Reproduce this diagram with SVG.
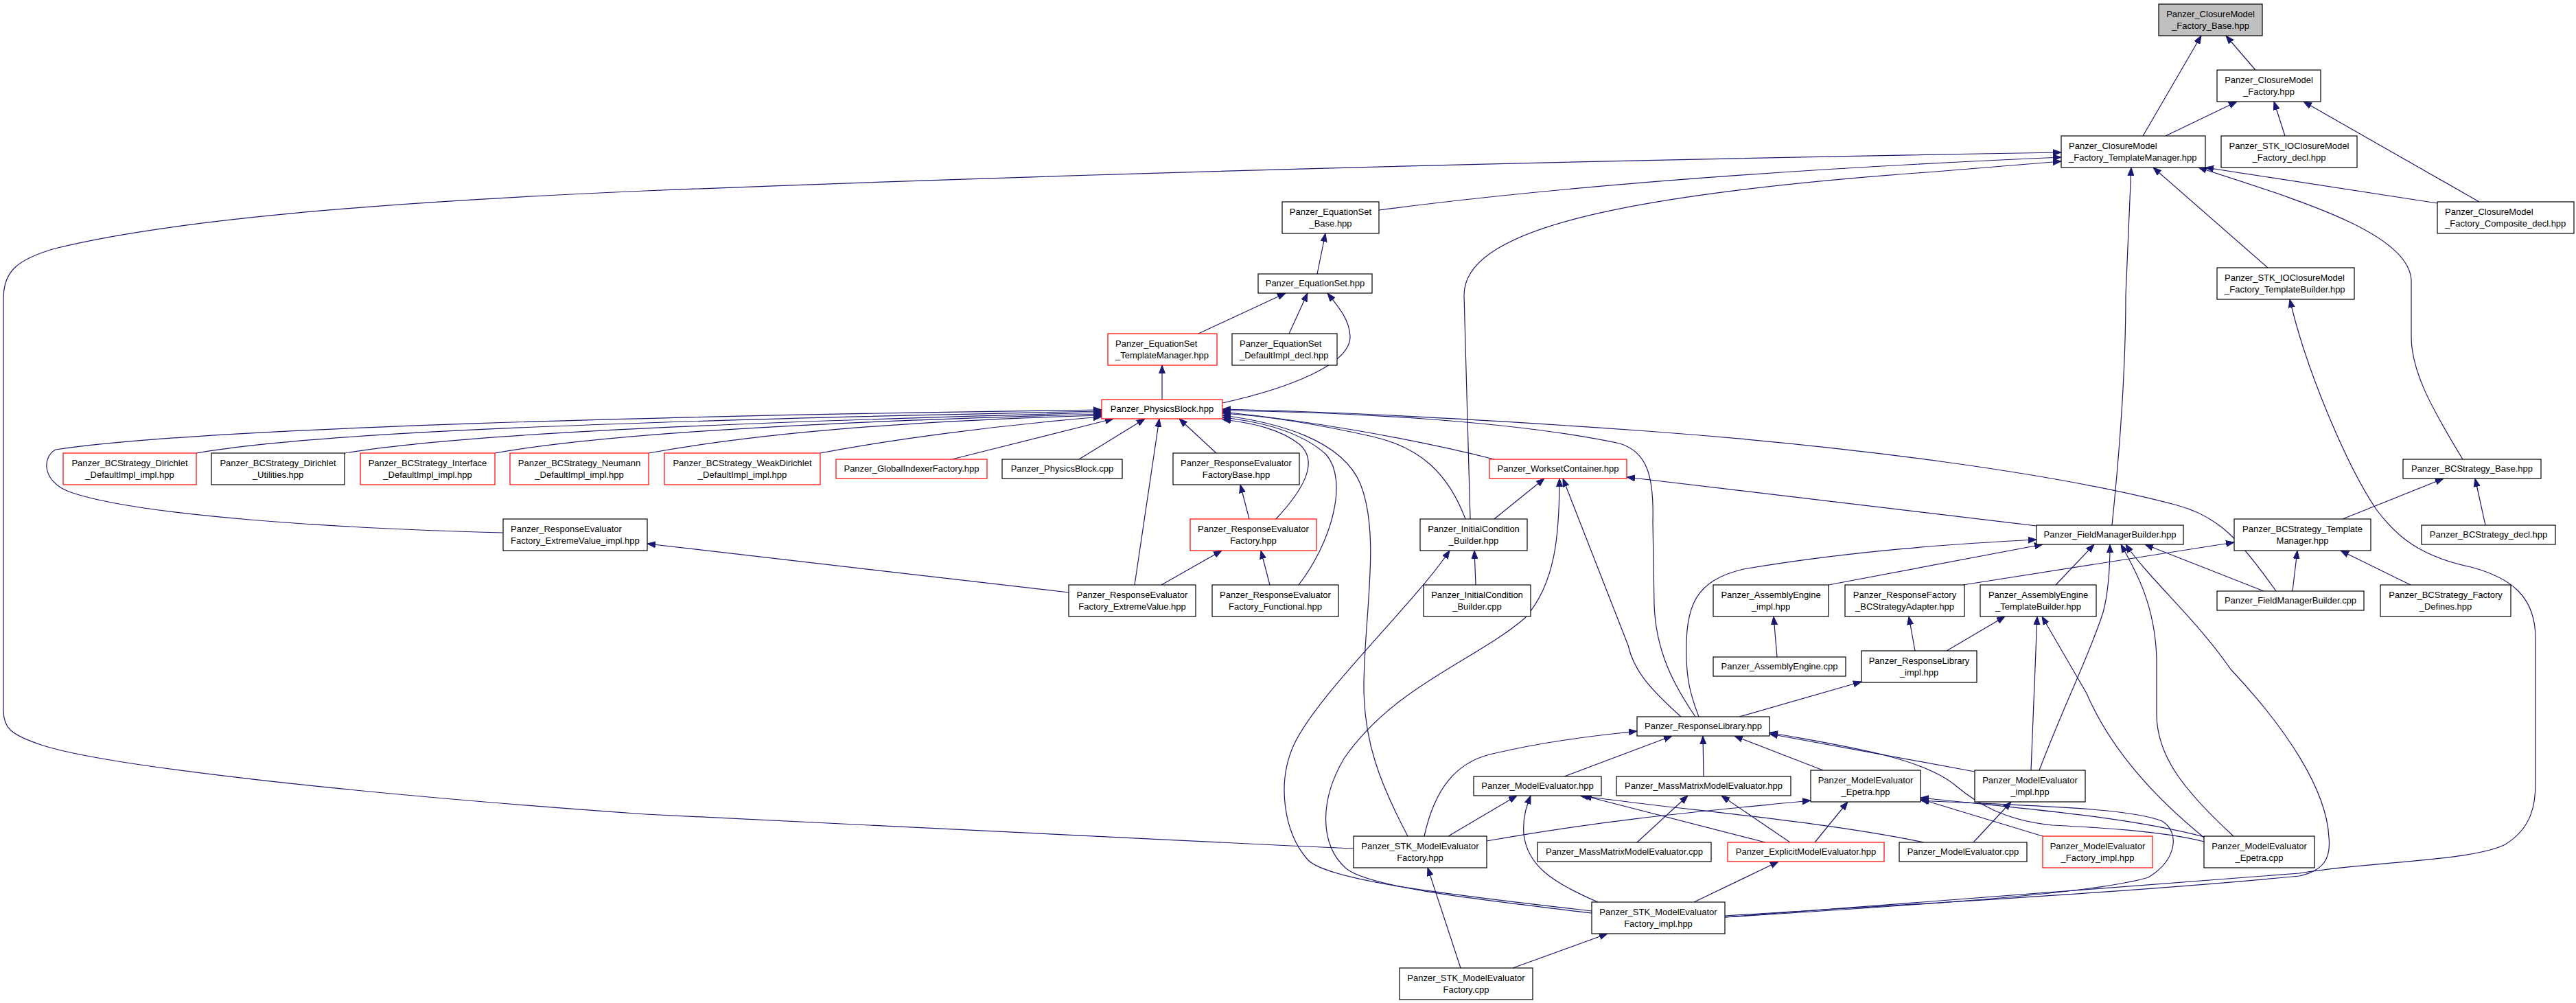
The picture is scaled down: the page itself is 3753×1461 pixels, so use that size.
<svg xmlns="http://www.w3.org/2000/svg" width="3753" height="1461" viewBox="0 0 3753 1461">
<style>
rect.n{fill:#fff;stroke:#000;stroke-width:1.2}
rect.r{fill:#fff;stroke:#f00;stroke-width:1.2}
rect.g{fill:#bfbfbf;stroke:#000;stroke-width:1.2}
text{font-family:"Liberation Sans",Arial,Helvetica,sans-serif;font-size:13px;fill:#000;text-anchor:middle}
text.l{text-anchor:start}
#edges path{fill:none;stroke:#191970;stroke-width:1.2;marker-end:url(#a)}
</style>
<defs>
<marker id="a" markerUnits="userSpaceOnUse" markerWidth="12" markerHeight="10" viewBox="0 0 12 10" refX="12" refY="5" orient="auto"><path d="M0,0.5 L12,5 L0,9.5 z" fill="#191970" stroke="#191970" stroke-width="1"/></marker>
</defs>
<rect x="0" y="0" width="3753" height="1461" fill="#fff"/>
<g id="edges">
<path d="M3286,102 L3243,52"/>
<path d="M3122,198 L3207,52"/>
<path d="M3155,198 L3259,148"/>
<path d="M3329,198 L3313,148"/>
<path d="M3612,294 L3356,148"/>
<path d="M1972,1236 L1880,1232 Q1300,1205 940,1186 C500,1155 150,1115 60,1085 C15,1070 5,1060 5,1035 L5,435 C5,395 25,378 80,362 C250,320 550,295 940,278 Q1900,240 3003,222"/>
<path d="M2009,306 Q2400,255 3003,229"/>
<path d="M2142,756 L2133,430 C2133,340 2330,285 2820,250 L3003,235"/>
<path d="M3077,765 C3092,620 3097,520 3097,430 L3105,244"/>
<path d="M3304,390 L3137,244"/>
<path d="M3551,296 L3213,244"/>
<path d="M3588,669 C3540,590 3513,540 3513,490 L3513,410 C3513,340 3350,292 3203,244"/>
<path d="M2513,1336 C2700,1322 3000,1300 3350,1272 C3450,1255 3600,1255 3650,1230 C3690,1205 3694,1170 3694,1140 L3694,930 C3694,870 3660,842 3600,826 C3525,810 3492,782 3462,742 C3420,680 3360,540 3336,436"/>
<path d="M1919,399 L1931,340"/>
<path d="M1746,486 L1873,427"/>
<path d="M1878,486 L1905,427"/>
<path d="M1781,587 C1880,565 1968,530 1967,490 C1966,465 1950,447 1934,427"/>
<path d="M1693,582 L1693,532"/>
<path d="M286,660 C420,637 700,617 1605,599"/>
<path d="M502,660 C650,636 950,618 1605,601"/>
<path d="M721,660 C850,637 1100,617 1605,603"/>
<path d="M945,660 C1100,632 1300,614 1605,605"/>
<path d="M1195,660 C1300,640 1450,620 1605,607"/>
<path d="M1387,669 L1622,610"/>
<path d="M1572,669 L1668,610"/>
<path d="M1653,852 L1689,610"/>
<path d="M1772,660 L1718,610"/>
<path d="M733,776 C500,770 200,752 100,716 C60,700 62,665 81,655 C300,622 1000,605 1605,597"/>
<path d="M1859,756 C1900,712 1922,672 1893,647 C1865,625 1825,616 1781,611"/>
<path d="M1892,852 C1940,790 1965,700 1932,662 C1895,628 1835,614 1781,608"/>
<path d="M2051,1218 C2010,1140 1987,1080 1987,1000 C1987,900 2012,780 1982,705 C1955,640 1860,615 1781,605"/>
<path d="M2135,756 C2110,690 2070,652 2000,636 C1920,618 1850,606 1781,602"/>
<path d="M2177,669 C2050,637 1900,612 1781,600"/>
<path d="M2470,1044 C2440,1000 2412,950 2410,880 L2408,760 C2410,690 2398,658 2360,646 C2200,612 1950,600 1781,598"/>
<path d="M3316,861 C3262,785 3232,752 3172,736 C3000,690 2700,650 2400,628 C2150,610 1950,600 1781,596"/>
<path d="M1820,756 L1807,706"/>
<path d="M1692,852 L1780,802"/>
<path d="M1850,852 L1837,802"/>
<path d="M1557,863 L943,792"/>
<path d="M2177,756 L2250,697"/>
<path d="M2967,766 L2370,695"/>
<path d="M2449,1044 C2400,1000 2380,975 2372,940 L2277,697"/>
<path d="M2319,1330 C2150,1310 1990,1292 1960,1264 C1925,1232 1920,1170 1958,1105 C2030,1000 2150,962 2222,900 C2266,850 2272,780 2272,697"/>
<path d="M2319,1327 C2100,1302 1932,1282 1905,1252 C1870,1212 1860,1140 1885,1085 C1920,1010 2060,880 2112,802"/>
<path d="M2150,852 L2148,802"/>
<path d="M2475,1044 C2462,1010 2458,990 2457,960 C2455,880 2470,846 2540,829 C2700,802 2850,792 2967,786"/>
<path d="M2664,852 L2976,793"/>
<path d="M2995,852 L3051,793"/>
<path d="M2971,1122 C3010,1020 3045,952 3064,892 C3072,862 3074,830 3074,793"/>
<path d="M3254,1218 C3180,1150 3142,1100 3142,1040 L3142,960 C3140,882 3112,832 3090,793"/>
<path d="M2513,1334 C2800,1316 3100,1300 3350,1276 C3386,1268 3396,1250 3393,1220 C3390,1150 3330,1060 3250,975 C3200,902 3130,842 3097,793"/>
<path d="M3298,861 L3125,793"/>
<path d="M3413,756 L3560,697"/>
<path d="M3621,765 L3606,697"/>
<path d="M3340,861 L3347,802"/>
<path d="M3512,852 L3410,802"/>
<path d="M2860,852 L3255,790"/>
<path d="M2589,957 L2584,898"/>
<path d="M2790,948 L2781,898"/>
<path d="M2836,948 L2921,898"/>
<path d="M2959,1122 L2968,898"/>
<path d="M3211,1220 C3125,1150 3070,1080 3040,1010 L2975,898"/>
<path d="M2534,1044 L2712,993"/>
<path d="M2075,1218 C2090,1150 2120,1112 2170,1099 C2250,1080 2320,1072 2385,1065"/>
<path d="M2279,1131 L2436,1072"/>
<path d="M2482,1131 L2481,1072"/>
<path d="M2656,1122 L2527,1072"/>
<path d="M2877,1124 L2578,1069"/>
<path d="M3211,1226 C3150,1210 3050,1205 2990,1202 C2920,1195 2880,1170 2850,1145 C2800,1102 2680,1086 2578,1067"/>
<path d="M2110,1218 L2210,1159"/>
<path d="M2328,1314 C2260,1285 2225,1260 2220,1215 C2218,1190 2225,1172 2230,1159"/>
<path d="M2572,1227 L2307,1159"/>
<path d="M2803,1227 C2650,1195 2450,1180 2302,1159"/>
<path d="M2385,1227 L2459,1159"/>
<path d="M2608,1227 L2508,1159"/>
<path d="M2166,1225 C2350,1192 2500,1180 2638,1166"/>
<path d="M2644,1227 L2692,1168"/>
<path d="M2976,1218 L2798,1164"/>
<path d="M3211,1219 C3100,1190 2950,1178 2798,1162"/>
<path d="M2513,1336 C2800,1318 3050,1302 3130,1278 C3172,1252 3176,1212 3150,1196 C3100,1176 2950,1174 2798,1166"/>
<path d="M2875,1227 L2930,1168"/>
<path d="M2468,1314 L2591,1255"/>
<path d="M2128,1410 L2080,1264"/>
<path d="M2204,1410 L2342,1360"/>
</g>
<g id="n1"><rect class="g" x="3145" y="6" width="151" height="46"/><text x="3220.5" y="25">Panzer_ClosureModel</text><text x="3220.5" y="42">_Factory_Base.hpp</text></g>
<g id="n2"><rect class="n" x="3230" y="102" width="151" height="46"/><text x="3305.5" y="121">Panzer_ClosureModel</text><text x="3305.5" y="138">_Factory.hpp</text></g>
<g id="n3"><rect class="n" x="3003" y="198" width="210" height="46"/><text class="l" x="3014" y="217">Panzer_ClosureModel</text><text class="l" x="3014" y="234">_Factory_TemplateManager.hpp</text></g>
<g id="n4"><rect class="n" x="3236" y="198" width="198" height="46"/><text x="3335" y="217">Panzer_STK_IOClosureModel</text><text x="3335" y="234">_Factory_decl.hpp</text></g>
<g id="n5"><rect class="n" x="1868" y="294" width="141" height="46"/><text x="1938.5" y="313">Panzer_EquationSet</text><text x="1938.5" y="330">_Base.hpp</text></g>
<g id="n6"><rect class="n" x="3551" y="294" width="199" height="46"/><text class="l" x="3562" y="313">Panzer_ClosureModel</text><text class="l" x="3562" y="330">_Factory_Composite_decl.hpp</text></g>
<g id="n7"><rect class="n" x="1833" y="399" width="166" height="28"/><text x="1916" y="417">Panzer_EquationSet.hpp</text></g>
<g id="n8"><rect class="n" x="3230" y="390" width="200" height="46"/><text class="l" x="3241" y="409">Panzer_STK_IOClosureModel</text><text class="l" x="3241" y="426">_Factory_TemplateBuilder.hpp</text></g>
<g id="n9"><rect class="r" x="1614" y="486" width="159" height="46"/><text class="l" x="1625" y="505">Panzer_EquationSet</text><text class="l" x="1625" y="522">_TemplateManager.hpp</text></g>
<g id="n10"><rect class="n" x="1795" y="486" width="153" height="46"/><text class="l" x="1806" y="505">Panzer_EquationSet</text><text class="l" x="1806" y="522">_DefaultImpl_decl.hpp</text></g>
<g id="n11"><rect class="r" x="1605" y="582" width="176" height="28"/><text x="1693" y="600">Panzer_PhysicsBlock.hpp</text></g>
<g id="n12"><rect class="r" x="92" y="660" width="194" height="46"/><text x="189" y="679">Panzer_BCStrategy_Dirichlet</text><text x="189" y="696">_DefaultImpl_impl.hpp</text></g>
<g id="n13"><rect class="n" x="308" y="660" width="194" height="46"/><text x="405" y="679">Panzer_BCStrategy_Dirichlet</text><text x="405" y="696">_Utilities.hpp</text></g>
<g id="n14"><rect class="r" x="525" y="660" width="196" height="46"/><text x="623" y="679">Panzer_BCStrategy_Interface</text><text x="623" y="696">_DefaultImpl_impl.hpp</text></g>
<g id="n15"><rect class="r" x="743" y="660" width="202" height="46"/><text x="844" y="679">Panzer_BCStrategy_Neumann</text><text x="844" y="696">_DefaultImpl_impl.hpp</text></g>
<g id="n16"><rect class="r" x="968" y="660" width="227" height="46"/><text x="1081.5" y="679">Panzer_BCStrategy_WeakDirichlet</text><text x="1081.5" y="696">_DefaultImpl_impl.hpp</text></g>
<g id="n17"><rect class="r" x="1218" y="669" width="220" height="28"/><text x="1328" y="687">Panzer_GlobalIndexerFactory.hpp</text></g>
<g id="n18"><rect class="n" x="1460" y="669" width="175" height="28"/><text x="1547.5" y="687">Panzer_PhysicsBlock.cpp</text></g>
<g id="n19"><rect class="n" x="1709" y="660" width="184" height="46"/><text x="1801" y="679">Panzer_ResponseEvaluator</text><text x="1801" y="696">FactoryBase.hpp</text></g>
<g id="n20"><rect class="r" x="2170" y="669" width="200" height="28"/><text x="2270" y="687">Panzer_WorksetContainer.hpp</text></g>
<g id="n21"><rect class="n" x="3501" y="669" width="201" height="28"/><text x="3601.5" y="687">Panzer_BCStrategy_Base.hpp</text></g>
<g id="n22"><rect class="n" x="733" y="756" width="210" height="46"/><text class="l" x="744" y="775">Panzer_ResponseEvaluator</text><text class="l" x="744" y="792">Factory_ExtremeValue_impl.hpp</text></g>
<g id="n23"><rect class="r" x="1734" y="756" width="184" height="46"/><text x="1826" y="775">Panzer_ResponseEvaluator</text><text x="1826" y="792">Factory.hpp</text></g>
<g id="n24"><rect class="n" x="2069" y="756" width="156" height="46"/><text x="2147" y="775">Panzer_InitialCondition</text><text x="2147" y="792">_Builder.hpp</text></g>
<g id="n25"><rect class="n" x="2967" y="765" width="214" height="28"/><text x="3074" y="783">Panzer_FieldManagerBuilder.hpp</text></g>
<g id="n26"><rect class="n" x="3255" y="756" width="199" height="46"/><text x="3354.5" y="775">Panzer_BCStrategy_Template</text><text x="3354.5" y="792">Manager.hpp</text></g>
<g id="n27"><rect class="n" x="3528" y="765" width="195" height="28"/><text x="3625.5" y="783">Panzer_BCStrategy_decl.hpp</text></g>
<g id="n28"><rect class="n" x="1557" y="852" width="185" height="46"/><text x="1649.5" y="871">Panzer_ResponseEvaluator</text><text x="1649.5" y="888">Factory_ExtremeValue.hpp</text></g>
<g id="n29"><rect class="n" x="1766" y="852" width="184" height="46"/><text x="1858" y="871">Panzer_ResponseEvaluator</text><text x="1858" y="888">Factory_Functional.hpp</text></g>
<g id="n30"><rect class="n" x="2074" y="852" width="156" height="46"/><text x="2152" y="871">Panzer_InitialCondition</text><text x="2152" y="888">_Builder.cpp</text></g>
<g id="n31"><rect class="n" x="2496" y="852" width="168" height="46"/><text x="2580" y="871">Panzer_AssemblyEngine</text><text x="2580" y="888">_impl.hpp</text></g>
<g id="n32"><rect class="n" x="2688" y="852" width="174" height="46"/><text x="2775" y="871">Panzer_ResponseFactory</text><text x="2775" y="888">_BCStrategyAdapter.hpp</text></g>
<g id="n33"><rect class="n" x="2885" y="852" width="169" height="46"/><text x="2969.5" y="871">Panzer_AssemblyEngine</text><text x="2969.5" y="888">_TemplateBuilder.hpp</text></g>
<g id="n34"><rect class="n" x="3230" y="861" width="214" height="28"/><text x="3337" y="879">Panzer_FieldManagerBuilder.cpp</text></g>
<g id="n35"><rect class="n" x="3468" y="852" width="190" height="46"/><text x="3563" y="871">Panzer_BCStrategy_Factory</text><text x="3563" y="888">_Defines.hpp</text></g>
<g id="n36"><rect class="n" x="2496" y="957" width="193" height="28"/><text x="2592.5" y="975">Panzer_AssemblyEngine.cpp</text></g>
<g id="n37"><rect class="n" x="2712" y="948" width="168" height="46"/><text x="2796" y="967">Panzer_ResponseLibrary</text><text x="2796" y="984">_impl.hpp</text></g>
<g id="n38"><rect class="n" x="2385" y="1044" width="193" height="28"/><text x="2481.5" y="1062">Panzer_ResponseLibrary.hpp</text></g>
<g id="n39"><rect class="n" x="2147" y="1131" width="186" height="28"/><text x="2240" y="1149">Panzer_ModelEvaluator.hpp</text></g>
<g id="n40"><rect class="n" x="2355" y="1131" width="254" height="28"/><text x="2482" y="1149">Panzer_MassMatrixModelEvaluator.hpp</text></g>
<g id="n41"><rect class="n" x="2638" y="1122" width="160" height="46"/><text x="2718" y="1141">Panzer_ModelEvaluator</text><text x="2718" y="1158">_Epetra.hpp</text></g>
<g id="n42"><rect class="n" x="2877" y="1122" width="161" height="46"/><text x="2957.5" y="1141">Panzer_ModelEvaluator</text><text x="2957.5" y="1158">_impl.hpp</text></g>
<g id="n43"><rect class="n" x="1972" y="1218" width="194" height="46"/><text x="2069" y="1237">Panzer_STK_ModelEvaluator</text><text x="2069" y="1254">Factory.hpp</text></g>
<g id="n44"><rect class="n" x="2240" y="1227" width="253" height="28"/><text x="2366.5" y="1245">Panzer_MassMatrixModelEvaluator.cpp</text></g>
<g id="n45"><rect class="r" x="2517" y="1227" width="228" height="28"/><text x="2631" y="1245">Panzer_ExplicitModelEvaluator.hpp</text></g>
<g id="n46"><rect class="n" x="2767" y="1227" width="186" height="28"/><text x="2860" y="1245">Panzer_ModelEvaluator.cpp</text></g>
<g id="n47"><rect class="r" x="2976" y="1218" width="160" height="46"/><text x="3056" y="1237">Panzer_ModelEvaluator</text><text x="3056" y="1254">_Factory_impl.hpp</text></g>
<g id="n48"><rect class="n" x="3211" y="1218" width="161" height="46"/><text x="3291.5" y="1237">Panzer_ModelEvaluator</text><text x="3291.5" y="1254">_Epetra.cpp</text></g>
<g id="n49"><rect class="n" x="2319" y="1314" width="194" height="46"/><text x="2416" y="1333">Panzer_STK_ModelEvaluator</text><text x="2416" y="1350">Factory_impl.hpp</text></g>
<g id="n50"><rect class="n" x="2039" y="1410" width="194" height="46"/><text x="2136" y="1429">Panzer_STK_ModelEvaluator</text><text x="2136" y="1446">Factory.cpp</text></g>
</svg>
